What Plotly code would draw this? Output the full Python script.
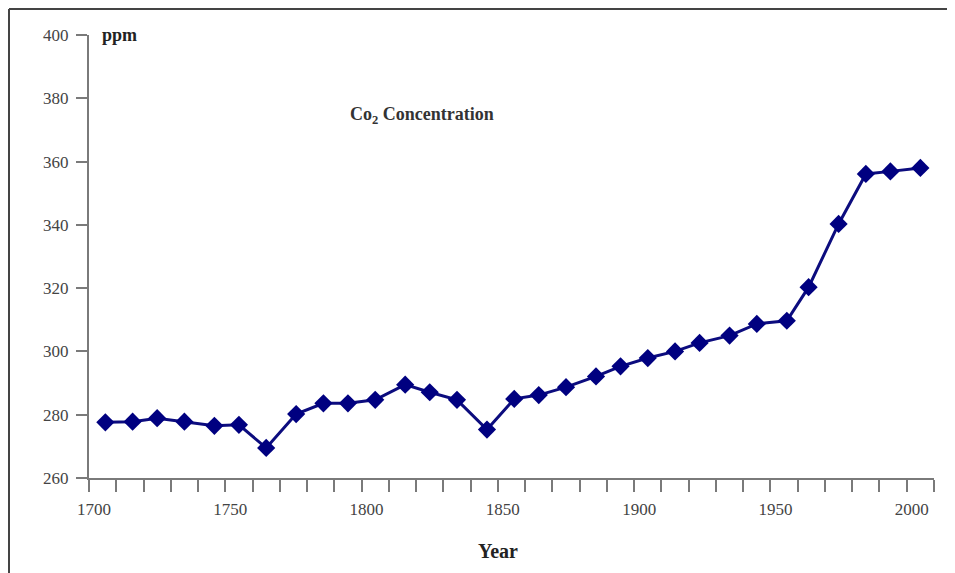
import plotly.graph_objects as go

years = [1706, 1716, 1725, 1735, 1746, 1755, 1765, 1776, 1786, 1795,
         1805, 1816, 1825, 1835, 1846, 1856, 1865, 1875, 1886, 1895,
         1905, 1915, 1924, 1935, 1945, 1956, 1964, 1975, 1985, 1994, 2005]
co2_ppm = [277.6, 277.8, 278.9, 277.8, 276.5, 276.8, 269.5, 280.2, 283.6, 283.6,
           284.7, 289.5, 287.1, 284.7, 275.3, 285.0, 286.2, 288.7, 292.1, 295.3,
           297.9, 300.0, 302.7, 305.0, 308.7, 309.7, 320.3, 340.3, 356.1, 356.9, 358.0]
x_ticks = [1700, 1750, 1800, 1850, 1900, 1950, 2000]
y_ticks = [260, 280, 300, 320, 340, 360, 380, 400]

FONT = "Liberation Serif, Times New Roman, serif"
AXIS_COLOR = "#7a7a7a"

# page body has an 8px margin; figure is sized to fill the rest of the window
W, H = 947, 565
L, R, T, B = 81, 21, 27, 95
PW, PH = W - L - R, H - T - B

fig = go.Figure()
fig.add_trace(go.Scatter(
    x=years, y=co2_ppm, mode="lines+markers",
    line=dict(color="#0c0c7e", width=3),
    marker=dict(symbol="diamond", size=14, color="#000080",
                line=dict(width=0)),
    showlegend=False, hoverinfo="x+y",
))

fig.update_layout(
    width=W, height=H,
    margin=dict(l=L, r=R, t=T, b=B),
    paper_bgcolor="white", plot_bgcolor="white",
    font=dict(family=FONT, size=17, color="#444"),
    xaxis=dict(
        range=[1700, 2010], tickvals=x_ticks, ticktext=[str(v) for v in x_ticks],
        showgrid=False, zeroline=False,
        showline=True, linecolor=AXIS_COLOR, linewidth=2,
        ticks="outside", ticklen=12, tickwidth=2, tickcolor=AXIS_COLOR,
        minor=dict(dtick=10, tick0=1700, ticks="outside", ticklen=12,
                   tickwidth=2, tickcolor=AXIS_COLOR, showgrid=False),
        tickfont=dict(family=FONT, size=17, color="#444"),
        ticklabelstandoff=3, ticklabelshift=5,
    ),
    yaxis=dict(
        range=[260, 400], tickvals=y_ticks,
        showgrid=False, zeroline=False,
        showline=True, linecolor=AXIS_COLOR, linewidth=2,
        ticks="outside", ticklen=11, tickwidth=2, tickcolor=AXIS_COLOR,
        tickfont=dict(family=FONT, size=17, color="#444"),
        ticklabelstandoff=4,
    ),
    annotations=[
        dict(text="<b>ppm</b>", xref="paper", yref="paper", x=0.0, y=1.0,
             xshift=11, xanchor="left", yanchor="middle", showarrow=False,
             font=dict(family=FONT, size=18, color="#222")),
        dict(text="<b>Co<sub>2</sub> Concentration</b>", x=1822, y=374.5,
             xanchor="center", yanchor="middle", showarrow=False,
             font=dict(family=FONT, size=18, color="#333")),
        dict(text="<b>Year</b>", xref="paper", yref="paper",
             x=(498 - 89) / PW, y=0, yshift=-73,
             xanchor="center", yanchor="middle", showarrow=False,
             font=dict(family=FONT, size=20, color="#222")),
    ],
    shapes=[
        dict(type="line", xref="paper", yref="paper",
             x0=-80 / PW, x1=1 + 30 / PW, y0=1 + 26 / PH, y1=1 + 26 / PH,
             line=dict(color="#444", width=2)),
        dict(type="line", xref="paper", yref="paper",
             x0=-80 / PW, x1=-80 / PW, y0=1 + 26 / PH, y1=-110 / PH,
             line=dict(color="#444", width=2)),
    ],
)

fig.write_html("out.html")
